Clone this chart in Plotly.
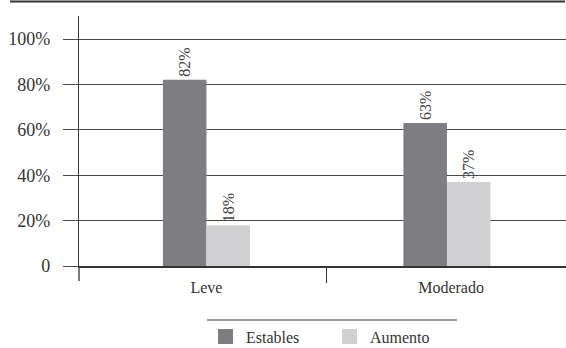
import plotly.graph_objects as go

# Data
categories = ["Leve", "Moderado"]
series_names = ["Estables", "Aumento"]
estables = [0.82, 0.63]
aumento = [0.18, 0.37]
y_tickvals = [0, 0.2, 0.4, 0.6, 0.8, 1.0]
y_ticktext = ["0", "20%", "40%", "60%", "80%", "100%"]

colors = ["#7e7e82", "#d0d0d2"]
FONT = "Liberation Serif"
TEXT = "#333333"

W, H = 566, 348
ML, MR, MT, MB = 79, 0, 16, 82
PW, PH = W - ML - MR, H - MT - MB


def px_x(px):
    return (px - ML) / PW


def px_y(py):
    return (H - MB - py) / PH


x_pos = list(range(len(categories)))

fig = go.Figure()
for name, vals, col in zip(series_names, [estables, aumento], colors):
    fig.add_trace(go.Bar(
        x=x_pos, y=vals, name=name,
        marker=dict(color=col, line=dict(width=0)),
        text=[f"{round(v * 100)}%" for v in vals],
        textposition="outside", textangle=-90,
        textfont=dict(family=FONT, size=16, color="#444444"),
        cliponaxis=False, showlegend=False,
    ))

shapes = [
    # y-axis extension below the baseline
    dict(type="line", xref="paper", yref="paper", x0=0, x1=0,
         y0=px_y(281), y1=0, line=dict(color="#333333", width=1.3)),
    # legend rule
    dict(type="line", xref="paper", yref="paper", x0=px_x(207), x1=px_x(457),
         y0=px_y(320), y1=px_y(320), line=dict(color="#333333", width=1.2)),
]
annotations = []
legend_x = [218, 342]
for name, col, lx in zip(series_names, colors, legend_x):
    shapes.append(dict(type="rect", xref="paper", yref="paper",
                       x0=px_x(lx), x1=px_x(lx + 15), y0=px_y(344), y1=px_y(329),
                       fillcolor=col, line=dict(width=0)))
    annotations.append(dict(xref="paper", yref="paper", x=px_x(lx + 26), y=px_y(337),
                            text=name, showarrow=False, xanchor="left", yanchor="middle",
                            font=dict(family=FONT, size=16, color=TEXT)))

# top rule across the figure
shapes.append(dict(type="line", xref="paper", yref="paper", x0=px_x(10), x1=px_x(565),
                   y0=px_y(1.5), y1=px_y(1.5), line=dict(color="#333333", width=2)))

fig.update_layout(
    width=W, height=H,
    margin=dict(l=ML, r=MR, t=MT, b=MB),
    paper_bgcolor="white", plot_bgcolor="white",
    barmode="group", bargap=0.638, bargroupgap=0,
    font=dict(family=FONT, color=TEXT),
    shapes=shapes, annotations=annotations,
    xaxis=dict(
        range=[-0.530, 1.495], tickvals=[0, 1.017], ticktext=categories,
        showgrid=False, zeroline=False, showline=True, linecolor="#333333", linewidth=1.5,
        ticks="", ticklabelstandoff=6,
        tickfont=dict(family=FONT, size=16, color=TEXT),
        minor=dict(tickvals=[0.5], ticks="outside", ticklen=15, tickcolor="#333333", tickwidth=1.3),
    ),
    yaxis=dict(
        range=[0, PH / 227], tickvals=y_tickvals, ticktext=y_ticktext,
        showgrid=True, gridcolor="#4a4a4a", gridwidth=1,
        zeroline=False, showline=True, linecolor="#333333", linewidth=1.3,
        ticks="outside", ticklen=15, tickcolor="#4a4a4a", tickwidth=1,
        ticklabelstandoff=9,
        tickfont=dict(family=FONT, size=18, color=TEXT),
    ),
)

fig.write_html("out.html", config={"displayModeBar": False})
